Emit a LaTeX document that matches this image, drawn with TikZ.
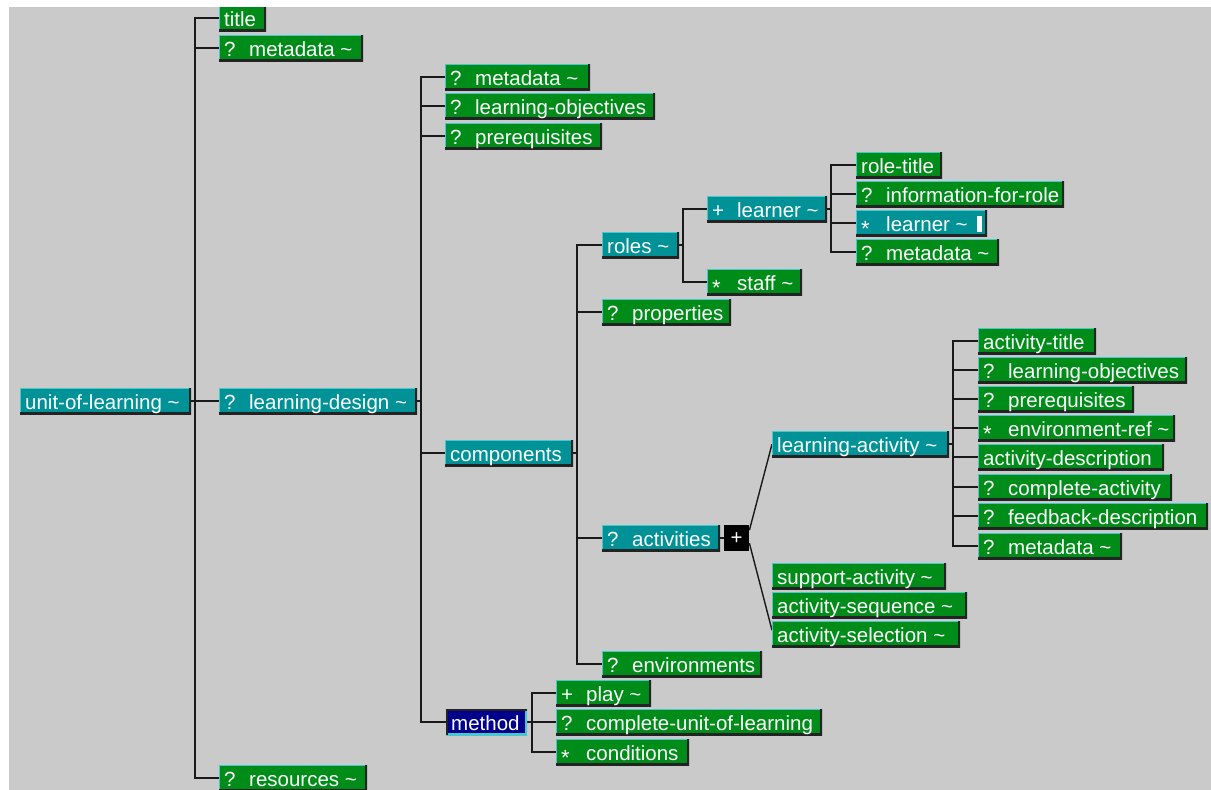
\documentclass[tikz,border=0pt]{standalone}
\usepackage{fontspec}
\setmainfont{Liberation Sans}
\usetikzlibrary{calc}
\definecolor{bgc}{RGB}{202,202,202}
\definecolor{grn}{RGB}{0,140,24}
\definecolor{tea}{RGB}{0,146,150}
\definecolor{blu}{RGB}{0,0,140}
\definecolor{lite}{RGB}{70,200,205}
\definecolor{dark}{RGB}{35,35,35}
\definecolor{wirec}{RGB}{25,25,25}
\pgfdeclarelayer{bglayer}
\pgfdeclarelayer{wirelayer}
\pgfsetlayers{bglayer,wirelayer,main}
\newcommand\Tl{\textasciitilde}
\newcommand\Pq{\makebox[25pt][l]{?}}
\newcommand\Pp{\makebox[25pt][l]{+}}
\newcommand\Ps{\makebox[25pt][l]{\raisebox{-5pt}[0pt][0pt]{\fontsize{22}{22}\selectfont *}}}
\newcommand\bx[6]{\pgfmathsetmacro\bxw{#5-#3-10}\node[#1] (#2) at (#3,#4) {\makebox[\bxw pt][l]{#6}};}
\tikzset{
  base/.style={anchor=north west, inner xsep=5pt, inner ysep=3pt, text height=18pt, text depth=2pt,
    text=white, font=\fontsize{20.5}{24}\selectfont},
  bevel/.style={path picture={
    \draw[line width=2pt, lite] (path picture bounding box.south west) |- (path picture bounding box.north east);
    \draw[line width=4pt, dark] (path picture bounding box.south west) -| (path picture bounding box.north east);}},
  invbevel/.style={path picture={
    \draw[line width=4pt, lite] (path picture bounding box.south west) -| (path picture bounding box.north east);
    \draw[line width=3pt, dark] (path picture bounding box.south west) |- (path picture bounding box.north east);}},
  gbox/.style={base, fill=grn, bevel},
  tbox/.style={base, fill=tea, bevel},
  mbox/.style={base, fill=blu, invbevel},
  pbox/.style={anchor=north west, fill=black, minimum width=25pt, minimum height=26pt, inner sep=0pt,
    text=white, font=\fontsize{20.5}{24}\selectfont},
  wire/.style={draw=wirec, line width=1.7pt, line cap=rect},
  diag/.style={draw=wirec, line width=1.4pt},
}
\begin{document}
\begin{tikzpicture}[x=1pt, y=-1pt]
\useasboundingbox (0,0) rectangle (1211,790);
\begin{pgfonlayer}{bglayer}
  \fill[white] (0,0) rectangle (1211,790);
  \fill[bgc] (9,7) rectangle (1211,790);
\end{pgfonlayer}

% level 0/1
\bx{tbox}{uol}{20}{388}{191}{unit-of-learning \Tl}
\bx{gbox}{title}{219}{5}{266}{title}
\bx{gbox}{meta}{219}{35}{363}{\Pq metadata \Tl}
\bx{tbox}{ld}{219}{388}{417}{\Pq learning-design \Tl}
\bx{gbox}{res}{219}{765}{367}{\Pq resources \Tl}
% level 2
\bx{gbox}{ldmeta}{445}{64}{590}{\Pq metadata \Tl}
\bx{gbox}{ldobj}{445}{93}{655}{\Pq learning-objectives}
\bx{gbox}{ldpre}{445}{123}{602}{\Pq prerequisites}
\bx{tbox}{comp}{445}{440}{573}{components}
\bx{mbox}{method}{446}{709}{527}{method}
% level 3
\bx{tbox}{roles}{602}{232}{679}{roles \Tl}
\bx{gbox}{props}{602}{299}{731}{\Pq properties}
\bx{tbox}{acts}{602}{525}{720}{\Pq activities}
\node[pbox] (plus) at (724,525) {+};
\bx{gbox}{envs}{602}{651}{762}{\Pq environments}
% roles
\bx{tbox}{learner}{707}{196}{827}{\Pp learner \Tl}
\bx{gbox}{staff}{707}{269}{802}{\Ps staff \Tl}
% learner
\bx{gbox}{rtitle}{856}{152}{942}{role-title}
\bx{gbox}{info}{856}{181}{1064}{\Pq information-for-role}
\bx{tbox}{learnerb}{856}{210}{987}{\Ps learner \Tl}
\bx{gbox}{rmeta}{856}{239}{999}{\Pq metadata \Tl}
\fill[white] ($(learnerb.east)+(-10,-7)$) rectangle ($(learnerb.east)+(-5,9)$);
% activities choice
\bx{tbox}{la}{772}{431}{949}{learning-activity \Tl}
\bx{gbox}{sa}{772}{563}{946}{support-activity \Tl}
\bx{gbox}{aseq}{772}{592}{967}{activity-sequence \Tl}
\bx{gbox}{asel}{772}{621}{960}{activity-selection \Tl}
% learning-activity children
\bx{gbox}{atitle}{978}{328}{1096}{activity-title}
\bx{gbox}{aobj}{978}{357}{1187}{\Pq learning-objectives}
\bx{gbox}{apre}{978}{386}{1134}{\Pq prerequisites}
\bx{gbox}{aenv}{978}{415}{1175}{\Ps environment-ref \Tl}
\bx{gbox}{adesc}{978}{444}{1164}{activity-description}
\bx{gbox}{acomp}{978}{474}{1172}{\Pq complete-activity}
\bx{gbox}{afeed}{978}{503}{1208}{\Pq feedback-description}
\bx{gbox}{ameta}{978}{533}{1122}{\Pq metadata \Tl}
% method children
\bx{gbox}{play}{556}{680}{651}{\Pp play \Tl}
\bx{gbox}{cuol}{556}{709}{822}{\Pq complete-unit-of-learning}
\bx{gbox}{cond}{556}{739}{689}{\Ps conditions}

% connectors
\coordinate (t1) at (195,0);
\coordinate (t2) at (421,0);
\coordinate (t3) at (577,0);
\coordinate (t4) at (683,0);
\coordinate (t5) at (831,0);
\coordinate (t6) at (953,0);
\coordinate (t7) at (532,0);
\begin{pgfonlayer}{wirelayer}
  \draw[wire] (title.west -| t1) -- (res.west -| t1);
  \foreach \n in {title,meta,ld,res} \draw[wire] (\n.west) -- (\n.west -| t1);
  \draw[wire] (uol.east) -- (uol.east -| t1);

  \draw[wire] (ldmeta.west -| t2) -- (method.west -| t2);
  \foreach \n in {ldmeta,ldobj,ldpre,comp,method} \draw[wire] (\n.west) -- (\n.west -| t2);
  \draw[wire] (ld.east) -- (ld.east -| t2);

  \draw[wire] (roles.west -| t3) -- (envs.west -| t3);
  \foreach \n in {roles,props,acts,envs} \draw[wire] (\n.west) -- (\n.west -| t3);
  \draw[wire] (comp.east) -- (comp.east -| t3);

  \draw[wire] (learner.west -| t4) -- (staff.west -| t4);
  \foreach \n in {learner,staff} \draw[wire] (\n.west) -- (\n.west -| t4);
  \draw[wire] (roles.east) -- (roles.east -| t4);

  \draw[wire] (rtitle.west -| t5) -- (rmeta.west -| t5);
  \foreach \n in {rtitle,info,learnerb,rmeta} \draw[wire] (\n.west) -- (\n.west -| t5);
  \draw[wire] (learner.east) -- (learner.east -| t5);

  \draw[wire] (atitle.west -| t6) -- (ameta.west -| t6);
  \foreach \n in {atitle,aobj,apre,aenv,adesc,acomp,afeed,ameta} \draw[wire] (\n.west) -- (\n.west -| t6);
  \draw[wire] (la.east) -- (la.east -| t6);

  \draw[wire] (play.west -| t7) -- (cond.west -| t7);
  \foreach \n in {play,cuol,cond} \draw[wire] (\n.west) -- (\n.west -| t7);
  \draw[wire] (method.east) -- (method.east -| t7);

  \draw[wire] (acts.east) -- (plus.west);
  \draw[diag] ($(plus.east)+(0,-8)$) -- (la.west);
  \draw[diag] ($(plus.east)+(0,5)$) -- ($(asel.west)+(0,-4)$);
\end{pgfonlayer}
\fill[white] (0,0) rectangle (1211,7);
\end{tikzpicture}
\end{document}
